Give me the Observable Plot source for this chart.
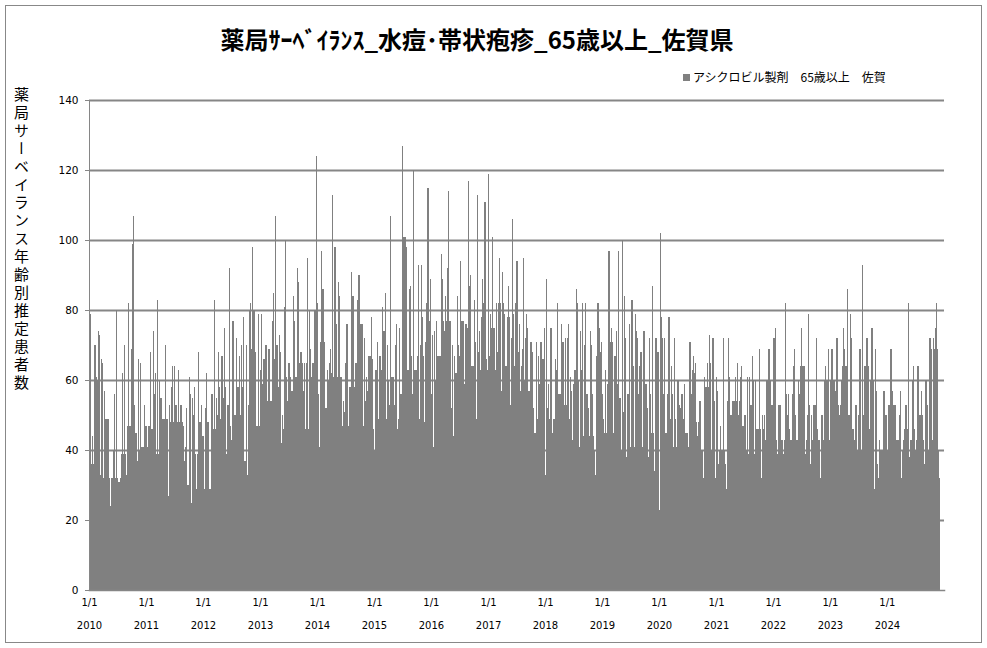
<!DOCTYPE html>
<html>
<head>
<meta charset="utf-8">
<script src="https://cdn.jsdelivr.net/npm/d3@7"></script>
<script src="https://cdn.jsdelivr.net/npm/@observablehq/plot@0.6"></script>
<style>
  body { margin: 0; background: #fff; }
  #wrap { position: relative; width: 987px; height: 648px; overflow: hidden; background: #fff; }
  #border { position: absolute; left: 5px; top: 5px; width: 977px; height: 638px; border: 1px solid #888; box-sizing: border-box; }
  #title { position: absolute; left: 0; width: 954px; top: 27px; text-align: center; font: bold 24px/24px "Noto Sans CJK JP", sans-serif; color: #000; white-space: nowrap; }
  #legend { position: absolute; left: 683px; top: 71px; font: 12px/12px "Noto Sans CJK JP", sans-serif; color: #000; white-space: nowrap; display: flex; align-items: center; }
  #legend .key { display: inline-block; width: 7px; height: 7px; background: #808080; margin-right: 3px; }
  #ytitle { position: absolute; left: 14px; top: 87px; writing-mode: vertical-rl; font: 15px/15px "Noto Sans CJK JP", sans-serif; letter-spacing: 3px; color: #000; white-space: nowrap; }
  #plot { position: absolute; left: 0; top: 0; }
</style>
</head>
<body>
<div id="wrap">
  <div id="border"></div>
  <div id="plot"></div>
  <div id="title">薬局ｻｰﾍﾞｲﾗﾝｽ_水痘･帯状疱疹_65歳以上_佐賀県</div>
  <div id="legend"><span class="key"></span><span>アシクロビル製剤　65歳以上　佐賀</span></div>
  <div id="ytitle">薬局サーベイランス年齢別推定患者数</div>
</div>
<script>
// Weekly values, one array per year, week 1 starting Jan 1
const y2010 = [44,79,36,44,36,70,61,60,74,73,33,66,65,32,57,49,49,49,32,24,32,32,40,56,32,80,32,31,32,39,62,39,70,39,33,47,82,47,69,99,107,53,45,45,37,66,40,65,41,41,53,47];
const y2011 = [47,41,47,47,68,46,74,56,62,39,83,39,60,55,55,49,49,70,49,49,27,53,48,58,64,48,64,53,48,63,48,53,53,48,47,37,41,52,30,61,56,25,55,50,58,39,29,39,68,48,53,44];
const y2012 = [44,29,52,62,48,48,29,56,56,46,83,46,55,50,68,58,49,67,55,75,58,39,53,53,92,47,43,77,50,50,72,58,58,67,50,70,58,78,37,70,33,53,80,82,69,98,80,80,68,47,79,47];
const y2013 = [63,79,59,66,66,70,54,69,69,54,54,77,85,66,107,70,58,73,68,42,50,46,81,100,61,54,65,61,57,57,84,77,61,61,92,88,65,68,65,57,65,46,65,95,46,80,69,61,65,80,80,124];
const y2014 = [82,56,41,71,97,86,71,52,52,63,60,65,69,62,113,61,98,76,61,88,84,61,61,47,54,51,65,76,47,58,58,91,84,84,58,65,65,83,90,76,76,76,47,72,54,61,57,67,67,78,66,46];
const y2015 = [40,63,63,71,49,67,63,81,74,74,85,49,70,60,53,107,61,61,53,70,76,46,49,75,56,56,127,101,101,98,63,63,86,87,67,56,120,63,63,67,93,49,70,93,78,67,48,71,82,115,77,89];
const y2016 = [56,73,41,74,60,77,67,67,67,96,89,77,74,84,77,92,114,77,52,70,44,67,62,62,84,70,67,94,77,77,59,76,76,75,117,87,90,64,64,83,71,49,113,68,74,63,78,89,82,111,66,63];
const y2017 = [119,67,79,75,101,75,63,82,68,82,95,82,57,91,82,79,64,78,87,78,53,72,106,79,64,82,94,68,76,57,64,69,95,60,72,79,75,57,71,71,68,52,45,45,71,49,67,59,71,66,66,75];
const y2018 = [33,89,52,59,49,75,45,49,49,66,63,82,56,56,56,76,71,53,72,53,72,76,49,61,57,43,59,63,86,82,60,41,74,63,82,44,70,82,56,52,44,74,70,56,44,40,33,67,82,75,68,71];
const y2019 = [56,49,45,63,45,59,97,71,75,71,45,67,67,74,59,97,55,40,100,51,84,72,38,56,56,76,41,83,64,41,79,74,72,56,64,68,68,41,74,59,59,52,38,72,56,45,87,45,34,72,68,68];
const y2020 = [23,102,78,72,56,72,45,56,78,78,49,64,56,41,72,49,41,60,53,52,56,56,49,59,45,45,45,41,71,56,63,67,62,65,48,44,48,54,54,40,32,61,58,58,65,58,73,65,40,72,54,32];
const y2021 = [61,57,36,40,47,40,72,40,36,29,54,72,61,50,50,54,54,61,54,65,50,54,61,64,47,47,50,40,61,39,61,53,53,67,60,39,60,46,46,69,46,32,50,46,50,43,60,60,69,60,53,53];
const y2022 = [72,72,75,43,39,53,53,43,43,39,43,82,56,50,56,46,43,56,64,69,50,43,43,60,56,64,75,64,64,39,43,50,79,53,36,50,43,53,53,72,46,43,43,32,50,50,43,60,64,60,69,43];
const y2023 = [60,69,69,60,60,57,72,53,50,53,60,64,75,69,64,64,86,50,79,72,46,46,43,53,53,40,50,69,40,93,50,64,64,72,72,64,46,60,75,60,29,69,57,36,32,43,40,40,40,57,50,50];
const y2024 = [40,53,53,69,69,57,53,53,43,43,43,50,57,32,40,43,46,53,46,82,38,43,43,60,64,46,40,43,64,50,50,57,50,43,36,60,60,53,40,72,69,43,72,69,75,82,69,40,32];

const years = [2010,2011,2012,2013,2014,2015,2016,2017,2018,2019,2020,2021,2022,2023,2024];
const weekly = [y2010,y2011,y2012,y2013,y2014,y2015,y2016,y2017,y2018,y2019,y2020,y2021,y2022,y2023,y2024];
const yTicks = [0,20,40,60,80,100,120,140];
const tickLabel = "1/1";

const rows = [];
years.forEach((yr, k) => {
  weekly[k].forEach((v, i) => {
    const start = new Date(Date.UTC(yr, 0, 1 + 7 * i));
    const end = i === 51 ? new Date(Date.UTC(yr + 1, 0, 1)) : new Date(Date.UTC(yr, 0, 8 + 7 * i));
    rows.push({start, end, value: v});
  });
});
const jan1 = years.map(y => new Date(Date.UTC(y, 0, 1)));

const chart = Plot.plot({
  width: 987,
  height: 648,
  marginLeft: 89,
  marginRight: 43,
  marginTop: 100,
  marginBottom: 58,
  x: {type: "utc", domain: [new Date(Date.UTC(2010, 0, 1)), new Date(Date.UTC(2025, 0, 1))], label: null},
  y: {domain: [0, 140], label: null},
  style: {fontFamily: "'DejaVu Sans', sans-serif", fontSize: "10px", background: "transparent", overflow: "visible", color: "#000"},
  marks: [
    Plot.gridY(yTicks.slice(1), {stroke: "#868686", strokeOpacity: 1, strokeWidth: 2}),
    Plot.rectY(rows, {x1: "start", x2: "end", y: "value", fill: "#808080", shapeRendering: "crispEdges"}),
    Plot.frame({anchor: "left", stroke: "#868686"}),
    Plot.frame({anchor: "bottom", stroke: "#868686", strokeWidth: 1.5}),
    Plot.axisY(yTicks, {label: null, tickSize: 4, tickPadding: 7, stroke: "#868686", fill: "#000", fontSize: 10.5}),
    Plot.axisX(jan1, {label: null, tickSize: 0, tickPadding: 8, tickFormat: () => tickLabel, fill: "#000", fontSize: 10}),
    Plot.axisX(jan1, {label: null, tickSize: 0, tickPadding: 31, tickFormat: d => String(d.getUTCFullYear()), fill: "#000", fontSize: 10})
  ]
});
document.getElementById("plot").appendChild(chart);
</script>
</body>
</html>
